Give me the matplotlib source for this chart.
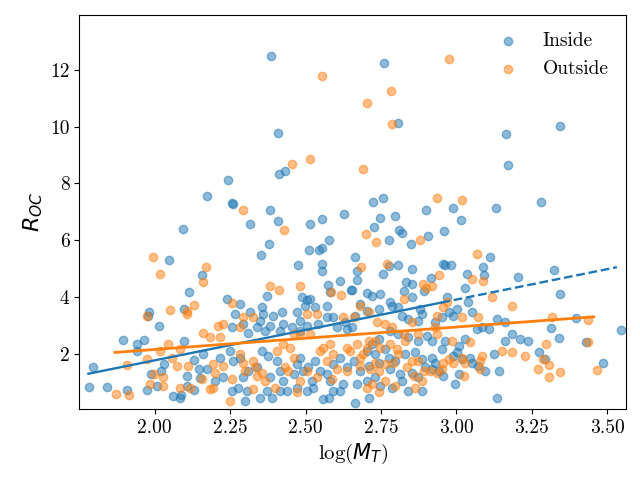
import matplotlib
matplotlib.use("Agg")
import matplotlib.pyplot as plt
import numpy as np

plt.rcParams['font.family'] = 'cmr10'
plt.rcParams['mathtext.fontset'] = 'custom'
plt.rcParams['mathtext.rm'] = 'cmr10'
plt.rcParams['mathtext.it'] = 'DejaVu Sans:italic'
plt.rcParams['mathtext.bf'] = 'DejaVu Sans:bold'
plt.rcParams['font.size'] = 14
plt.rcParams['axes.unicode_minus'] = False

# ---------------- Inside ----------------
inside_upper_x = [
    2.410, 2.413, 2.433, 2.244, 2.174, 2.257, 2.259, 2.382, 2.410, 2.316,
    2.513, 2.556, 2.626, 2.725, 2.755, 2.748, 2.728, 2.798, 2.811, 2.818,
    2.777, 2.850, 2.907, 2.900, 2.990, 2.960, 3.014, 3.130, 3.110, 3.087,
    3.090, 3.034, 3.027, 2.954, 2.963, 2.982, 2.916, 2.854, 2.808, 2.776,
    2.758, 2.834, 2.854, 2.825, 2.576, 2.546, 2.553, 2.510, 2.665,
    2.670, 2.672, 2.553, 2.553, 2.476, 2.379, 2.353, 2.573, 2.615, 2.651,
    2.156, 2.808,
    2.386, 2.760, 3.342, 3.165, 3.171, 3.282, 2.092, 2.047,
]
inside_upper_y = [
    9.79, 8.34, 8.43, 8.13, 7.54, 7.31, 7.29, 7.07, 6.69, 6.58,
    6.58, 6.75, 6.93, 7.33, 7.50, 6.79, 6.46, 6.86, 6.37, 6.27,
    6.02, 5.87, 6.13, 7.07, 7.14, 6.34, 6.72, 7.12, 5.42, 5.07,
    4.79, 4.81, 4.32, 5.17, 5.14, 5.14, 4.67, 5.00, 5.11, 5.10,
    4.81, 4.53, 4.46, 4.22, 5.99, 5.64, 5.73, 5.67, 5.42,
    4.93, 4.60, 5.17, 4.91, 5.14, 5.87, 5.48, 4.44, 4.58, 4.25,
    4.79, 10.11,
    12.48, 12.24, 10.02, 9.74, 8.66, 7.35, 6.40, 5.31,
]
inside_left_x = [
    1.783, 1.796, 1.843, 1.896, 1.907, 1.940, 1.942, 1.965, 1.982, 1.977,
    2.015, 1.988, 2.007, 1.975, 2.029, 2.021, 2.060, 2.087, 2.098, 2.098,
    2.115, 2.131, 2.145, 2.106, 2.108, 2.131, 2.082,
]
inside_left_y = [
    0.84, 1.54, 0.84, 2.48, 0.72, 2.36, 2.11, 2.48, 3.49, 3.34,
    2.99, 1.30, 0.87, 0.72, 1.66, 1.40, 0.52, 0.55, 2.46, 3.58,
    4.16, 1.78, 1.46, 1.22, 0.87, 0.72, 0.46,
]
inside_right_x = [
    2.654, 3.203, 3.323, 3.344, 3.314, 3.340, 3.275, 3.295, 3.398, 3.431,
    3.485, 3.545,
]
inside_right_y = [
    4.23, 4.71, 4.96, 4.11, 2.92, 2.54, 2.06, 1.82, 3.25, 2.42,
    1.67, 2.84,
]
inside_bandA_x = [
    2.238, 2.371, 2.487, 2.504, 2.515, 2.581, 2.703,
    2.283, 2.266, 2.316, 2.355, 2.360, 2.349, 2.393, 2.421, 2.426, 2.471,
    2.482, 2.498, 2.531, 2.570, 2.592, 2.631, 2.664, 2.681, 2.703, 2.255,
    2.294, 2.310, 2.338, 2.366, 2.382, 2.415, 2.454, 2.482, 2.504, 2.542,
    2.570, 2.603, 2.636, 2.653,
    2.161, 2.216, 2.250, 2.261, 2.283, 2.294, 2.277, 2.310, 2.338, 2.355,
    2.377, 2.404, 2.415, 2.382, 2.426, 2.460, 2.471, 2.482, 2.493, 2.509,
    2.520, 2.531, 2.548, 2.570, 2.581, 2.592, 2.614, 2.636, 2.659, 2.681,
    2.703, 2.670, 2.625, 2.592, 2.526, 2.504, 2.471, 2.437, 2.371, 2.349,
    2.305, 2.172, 2.200, 2.227, 2.150,
    2.255, 2.299, 2.388, 2.415, 2.559, 2.576, 2.664, 2.614,
]
inside_bandA_y = [
    3.93, 4.05, 3.99, 3.89, 3.93, 4.17, 4.13,
    3.75, 3.40, 3.46, 3.64, 3.40, 3.17, 3.34, 3.46, 3.05, 3.46,
    3.17, 3.69, 3.64, 3.69, 3.28, 3.11, 3.34, 3.75, 3.52, 2.93,
    3.05, 2.75, 2.93, 2.81, 2.99, 2.81, 2.93, 2.81, 2.99, 3.05,
    3.28, 2.93, 2.87, 2.93,
    1.99, 1.87, 2.10, 1.75, 1.87, 1.17, 0.81, 1.40, 1.52, 2.10,
    1.93, 1.75, 1.40, 1.17, 1.05, 1.28, 1.64, 1.87, 1.40, 1.52,
    1.05, 1.75, 1.40, 1.28, 1.05, 1.64, 1.87, 1.52, 1.75, 1.40,
    1.05, 0.93, 0.93, 0.69, 0.81, 0.69, 0.81, 0.69, 0.69, 0.46,
    0.69, 1.46, 1.05, 1.17, 1.16,
    0.69, 0.34, 0.46, 0.69, 0.40, 0.46, 0.28, 0.69,
]
inside_bandB_x = [
    2.720, 2.747, 2.780, 2.852, 2.891, 2.968, 3.040, 2.742, 2.786, 2.808,
    2.819, 2.841, 2.880, 2.874, 2.885, 2.930, 2.952, 2.974, 2.990, 3.002,
    3.051, 3.068, 3.084, 3.107, 3.134, 3.162, 3.184, 3.212, 3.239, 3.162,
    3.123, 3.140, 3.134, 3.029, 3.007, 2.963, 2.952, 2.919, 2.902, 2.874,
    2.841, 2.808, 2.780, 2.742, 2.720, 2.703, 2.731, 2.764, 2.775, 2.797,
    2.830, 2.863, 2.885, 2.919, 2.930, 2.990, 3.018, 3.046, 3.051, 3.073,
    3.095, 3.002, 3.007, 2.996, 2.957, 2.919, 2.896, 2.874, 2.852, 2.814,
    2.780, 2.742, 2.709, 2.731, 2.747, 2.786, 2.819, 2.885, 2.709, 2.841,
    2.941,
]
inside_bandB_y = [
    4.05, 4.11, 3.81, 3.99, 4.22, 3.99, 3.81, 3.58, 3.69, 3.64,
    3.34, 3.22, 3.58, 3.17, 3.40, 3.11, 3.28, 3.46, 3.34, 3.58,
    3.46, 2.87, 2.93, 2.87, 3.22, 3.11, 2.69, 2.52, 2.46, 2.46,
    1.99, 1.40, 0.44, 2.52, 2.28, 2.46, 2.17, 2.46, 2.64, 2.46,
    2.58, 2.69, 2.81, 2.52, 2.34, 2.10, 1.99, 2.17, 1.87, 1.75,
    1.99, 2.05, 1.81, 1.87, 1.69, 1.93, 1.81, 1.87, 1.69, 1.58,
    1.40, 2.05, 1.28, 0.93, 1.22, 1.46, 1.52, 1.17, 1.34, 1.28,
    1.46, 1.69, 1.58, 1.17, 0.87, 0.81, 1.05, 0.69, 0.46, 0.69,
    1.40,
]

# ---------------- Outside ----------------
outside_upper_x = [
    2.787, 2.456, 2.516, 2.689, 2.293, 2.427, 2.937, 3.017, 2.699, 2.732,
    2.878, 3.067, 2.170, 2.159, 2.685, 2.770, 2.943, 3.051, 3.087, 2.888,
    2.900, 2.919, 2.382, 2.413, 2.483, 2.584, 2.616,
    2.556, 2.974, 2.782, 2.702, 1.995,
]
outside_upper_y = [
    10.08, 8.67, 8.85, 8.52, 7.07, 6.37, 7.50, 7.43, 6.22, 5.95,
    6.02, 5.52, 5.07, 4.53, 5.07, 5.17, 4.76, 4.64, 4.58, 4.46,
    4.32, 4.40, 4.40, 4.25, 4.40, 4.16, 4.08,
    11.78, 12.38, 11.25, 10.82, 5.42,
]
outside_left_x = [
    2.017, 2.050, 1.973, 2.106, 2.108, 2.131, 2.045, 2.084, 2.017, 2.056,
    1.973, 1.907, 1.871, 1.916, 1.984, 1.997, 2.028, 2.028, 2.073, 2.111,
    2.084, 2.117,
]
outside_left_y = [
    4.81, 3.54, 3.34, 3.52, 3.40, 3.73, 2.34, 2.17, 2.11, 1.87,
    1.81, 1.61, 0.58, 0.55, 0.95, 1.28, 1.17, 0.87, 1.58, 1.58,
    0.81, 0.79,
]
outside_right_x = [
    3.317, 3.437, 3.297, 3.437, 3.286, 3.308, 3.269, 3.342, 3.308, 3.465,
]
outside_right_y = [
    3.28, 3.19, 2.36, 2.42, 1.83, 1.59, 1.47, 1.37, 1.17, 1.44,
]
outside_bandA_x = [
    2.255, 2.681, 2.625, 2.659, 2.537, 2.504, 2.515, 2.482, 2.460, 2.227,
    2.211, 2.161, 2.216, 2.183, 2.283, 2.327, 2.294, 2.548, 2.559, 2.581,
    2.592, 2.570, 2.636, 2.648, 2.670, 2.681, 2.692, 2.449, 2.460, 2.432,
    2.443, 2.283, 2.294, 2.327, 2.332, 2.299, 2.194, 2.200, 2.227, 2.156,
    2.255, 2.338, 2.355, 2.366, 2.399, 2.327, 2.183, 2.194, 2.250, 2.471,
    2.482, 2.504, 2.537, 2.587, 2.603, 2.636, 2.681, 2.703, 2.426, 2.404,
]
outside_bandA_y = [
    3.78, 3.69, 3.28, 3.28, 3.40, 3.40, 2.69, 2.69, 2.69, 3.05,
    2.99, 2.75, 2.58, 2.58, 2.93, 3.28, 3.28, 2.11, 2.22, 2.34,
    1.99, 1.75, 2.22, 2.10, 2.34, 1.87, 1.99, 2.22, 1.87, 1.52,
    1.40, 1.99, 1.69, 1.75, 1.52, 1.40, 1.64, 1.34, 1.58, 1.11,
    1.11, 1.22, 1.34, 1.05, 0.81, 0.75, 0.75, 0.81, 0.34, 0.64,
    1.05, 1.40, 1.17, 1.11, 1.46, 1.40, 1.58, 0.81, 2.34, 2.10,
]
outside_bandB_x = [
    2.709, 2.825, 2.957, 2.968, 2.935, 2.930, 3.018, 3.073, 3.118, 3.184,
    3.046, 2.985, 2.935, 2.874, 2.825, 2.852, 2.786, 2.764, 2.736, 2.709,
    2.731, 2.703, 2.747, 2.780, 2.803, 2.808, 2.830, 2.791, 2.764, 2.742,
    2.714, 2.731, 2.852, 2.836, 2.874, 2.891, 2.913, 2.935, 2.957, 2.974,
    2.990, 3.018, 3.084, 3.079, 3.079, 3.151, 3.184, 3.228, 3.029, 3.024,
    2.952, 2.863, 2.797, 2.720, 2.742, 2.764, 2.858, 2.885,
]
outside_bandB_y = [
    3.46, 3.93, 3.64, 3.81, 3.34, 2.93, 3.28, 3.28, 3.99, 3.69,
    2.40, 2.46, 2.69, 2.69, 2.69, 3.11, 2.93, 3.05, 3.11, 2.46,
    2.46, 2.22, 2.22, 2.34, 2.17, 1.99, 2.46, 1.69, 1.64, 1.40,
    1.46, 1.69, 1.75, 1.52, 1.75, 1.40, 1.40, 1.34, 1.69, 1.81,
    1.69, 1.87, 1.93, 1.75, 1.46, 2.10, 2.05, 1.93, 1.69, 1.22,
    1.46, 0.81, 0.87, 0.93, 0.64, 1.05, 1.22, 1.05,
]

inside_x = inside_upper_x + inside_left_x + inside_right_x + inside_bandA_x + inside_bandB_x
inside_y = inside_upper_y + inside_left_y + inside_right_y + inside_bandA_y + inside_bandB_y
outside_x = outside_upper_x + outside_left_x + outside_right_x + outside_bandA_x + outside_bandB_x
outside_y = outside_upper_y + outside_left_y + outside_right_y + outside_bandA_y + outside_bandB_y

# fitted lines: (slope, intercept); x ranges (solid part, then dashed extension)
inside_fit = (2.14, -2.509)
inside_range = (1.78, 2.95, 3.532)
outside_fit = (0.79, 0.574)
outside_range = (1.868, 3.455)

fig = plt.figure(figsize=(6.4, 4.8), dpi=100)
ax = fig.add_axes([0.124, 0.148, 0.854, 0.821])

ax.scatter(inside_x, inside_y, color='C0', alpha=0.5, label='Inside')
ax.scatter(outside_x, outside_y, color='C1', alpha=0.5, label='Outside')

xs = np.linspace(inside_range[0], inside_range[1], 50)
ax.plot(xs, inside_fit[0] * xs + inside_fit[1], color='C0', lw=1.7)
xs = np.linspace(inside_range[1], inside_range[2], 50)
ax.plot(xs, inside_fit[0] * xs + inside_fit[1], color='C0', lw=1.7, ls='--')
xs = np.linspace(outside_range[0], outside_range[1], 50)
ax.plot(xs, outside_fit[0] * xs + outside_fit[1], color='C1', lw=2.0)

ax.set_xlim(1.75, 3.562)
ax.set_ylim(0.06, 13.93)
ax.set_xticks([2.0, 2.25, 2.5, 2.75, 3.0, 3.25, 3.5])
ax.set_yticks([2, 4, 6, 8, 10, 12])
ax.set_xlabel(r'$\log(M_T)$', fontsize=15)
ax.set_ylabel(r'$R_{OC}$', fontsize=16)
ax.legend(loc='upper right', frameon=False, fontsize=14)

fig.savefig('out.png', dpi=100)
